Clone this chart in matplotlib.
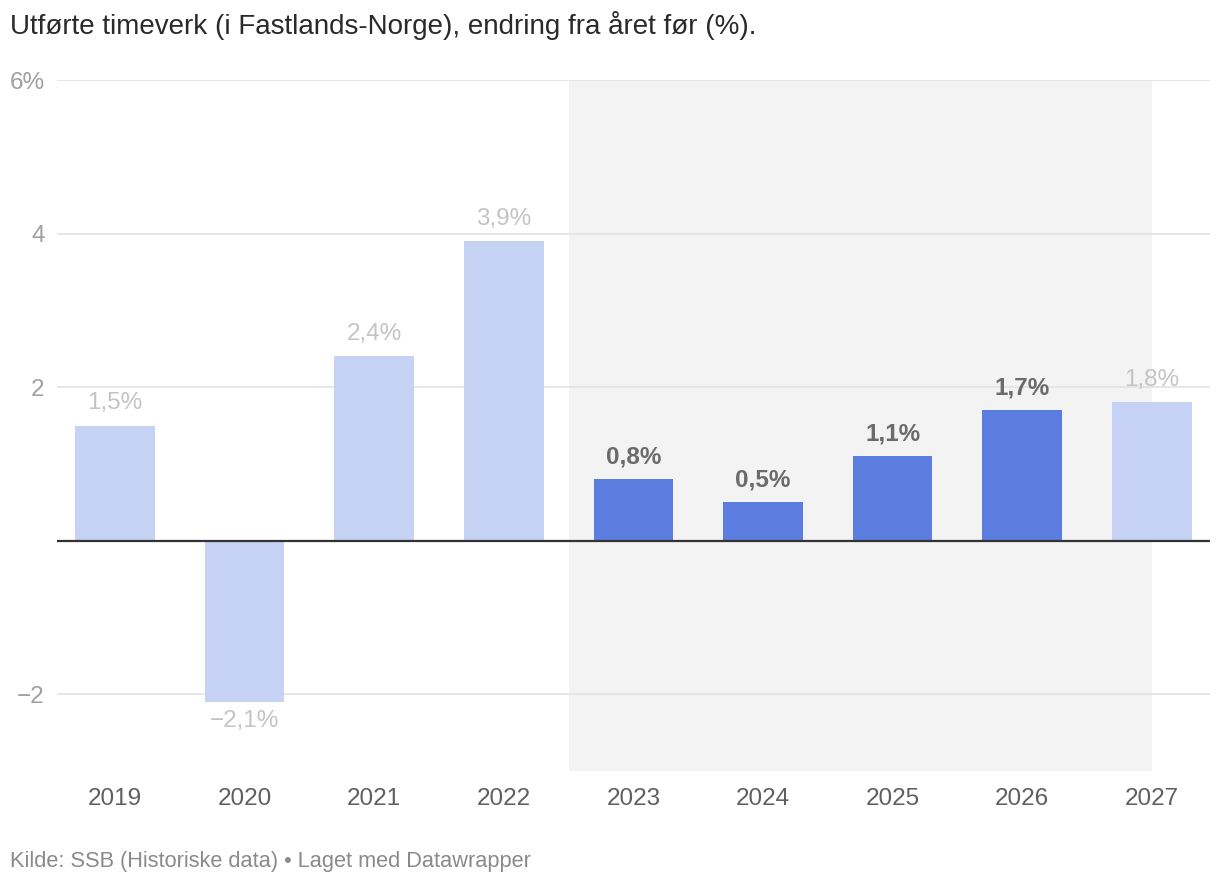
import matplotlib
matplotlib.use("Agg")
import matplotlib.pyplot as plt

plt.rcParams['font.family'] = ['Liberation Sans', 'DejaVu Sans']

years = ['2019', '2020', '2021', '2022', '2023', '2024', '2025', '2026', '2027']
values = [1.5, -2.1, 2.4, 3.9, 0.8, 0.5, 1.1, 1.7, 1.8]
highlighted = ['2023', '2024', '2025', '2026']
shade_from, shade_to = '2023', '2027'
yticks = [-2, 2, 4, 6]
ytick_labels = ['\u22122', '2', '4', '6%']
title = 'Utførte timeverk (i Fastlands-Norge), endring fra året før (%).'
footer = 'Kilde: SSB (Historiske data) \u2022 Laget med Datawrapper'

def fmt(v):
    s = f'{abs(v):.1f}'.replace('.', ',') + '%'
    return ('\u2212' + s) if v < 0 else s

light = '#c5d2f3'
dark = '#5a7ddf'

fig = plt.figure(figsize=(12.2, 8.86), dpi=100)
ax = fig.add_axes([57/1220, 1-771/886, (1210-57)/1220, (771-80)/886])

x = list(range(len(years)))
colors = [dark if y in highlighted else light for y in years]
ax.bar(x, values, width=0.615, color=colors, zorder=2)

ax.axvspan(years.index(shade_from) - 0.5, years.index(shade_to), color='#f3f3f3', zorder=0, lw=0)

for yt in yticks:
    ax.axhline(yt, color='#e3e3e3', lw=1.2, zorder=0.5)
ax.axhline(0, color='#333333', lw=1.6, zorder=3)

for xi, y, v in zip(x, years, values):
    hl = y in highlighted
    off = 8 if v >= 0 else -6
    ax.annotate(fmt(v), (xi, v), xytext=(0, off), textcoords='offset points',
                ha='center', va='bottom' if v >= 0 else 'top',
                fontsize=17.5, color='#6b6b6b' if hl else '#c4c4c4',
                fontweight='bold' if hl else 'normal', zorder=4)

ax.set_xlim(-0.4475, 8.449)
ax.set_ylim(-3, 6)
ax.set_xticks(x)
ax.set_xticklabels(years)
ax.set_yticks(yticks)
ax.set_yticklabels(ytick_labels)
ax.tick_params(axis='x', length=0, pad=12, labelsize=17.5, labelcolor='#5f5f5f')
ax.tick_params(axis='y', length=0, pad=9, labelsize=17.5, labelcolor='#a0a0a0')
for sp in ax.spines.values():
    sp.set_visible(False)
ax.set_facecolor('none')

fig.text(10/1220, 1-26/886, title, fontsize=20, color='#2a2a2a', ha='left', va='center')
fig.text(10/1220, 1-862/886, footer, fontsize=15.7, color='#8a8a8a', ha='left', va='center')

fig.savefig('out.png', dpi=100, facecolor='white')
